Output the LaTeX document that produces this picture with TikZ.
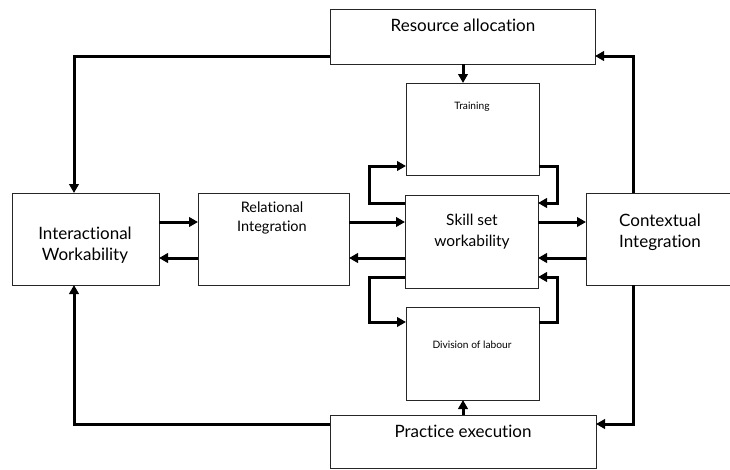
\documentclass[tikz,border=0pt]{standalone}
\usepackage{fontspec}
\setmainfont{Lato}[Ligatures={NoCommon,NoContextual}]
\usetikzlibrary{arrows.meta}
\begin{document}
\begin{tikzpicture}[x=1pt,y=-1pt,
  box/.style={draw=black!85,line width=0.8pt,fill=white,inner sep=0pt,outer sep=0pt},
  big/.style={font=\fontsize{17}{20}\selectfont,align=center,inner sep=0pt},
  mid/.style={font=\fontsize{17}{21}\selectfont,align=center,inner sep=0pt},
  sml/.style={font=\fontsize{10.2}{12}\selectfont,align=center,inner sep=0pt},
  arr/.style={line width=3pt,-{Triangle[length=9pt,width=9.5pt]},line join=miter}]
\useasboundingbox (0,0) rectangle (730,469);
% boxes
\node[box,minimum width=265pt,minimum height=55pt] (res) at (462.5,36.5) {};
\node[box,minimum width=133pt,minimum height=92pt] (train) at (472.5,129) {};
\node[box,minimum width=133pt,minimum height=93pt] (skill) at (471.5,241.5) {};
\node[box,minimum width=133pt,minimum height=93pt] (div) at (472.5,353.5) {};
\node[box,minimum width=266pt,minimum height=53pt] (prac) at (463,441.5) {};
\node[box,minimum width=147pt,minimum height=92pt] (inter) at (85.5,239) {};
\node[box,minimum width=151pt,minimum height=92pt] (rel) at (273.5,239) {};
\node[box,minimum width=149pt,minimum height=92pt] (ctx) at (660.5,239) {};
% texts
\node[big] (tres) at (463,25) {Resource allocation};
\node[sml] (ttrain) at (472,107) {Training};
\node[mid,font=\fontsize{15.5}{21}\selectfont] (tskill) at (472,232) {Skill set\\workability};
\node[sml] (tdiv) at (472,345) {Division of labour};
\node[big] (tprac) at (463,431) {Practice execution};
\node[mid] (tinter) at (85,245) {Interactional\\Workability};
\node[mid,font=\fontsize{14.5}{19.5}\selectfont] (trel) at (272,218) {Relational\\Integration};
\node[mid] (tctx) at (660,232) {Contextual\\Integration};
% connectors
\draw[arr] (res.south -| 463,0) -- (train.north -| 463,0);
\draw[arr] (res.west |- 0,56) -- (74,56) -- (inter.north -| 74,0);
\draw[arr] (ctx.north -| 633,0) -- (633,56) -- (res.east |- 0,56);
\draw[arr] (ctx.south -| 633,0) -- (633,424) -- (prac.east |- 0,424);
\draw[arr] (prac.west |- 0,424) -- (74,424) -- (inter.south -| 74,0);
\draw[arr] (prac.north -| 463,0) -- (div.south -| 463,0);
\draw[arr] (inter.east |- 0,222) -- (rel.west |- 0,222);
\draw[arr] (rel.west |- 0,258) -- (inter.east |- 0,258);
\draw[arr] (rel.east |- 0,222) -- (skill.west |- 0,222);
\draw[arr] (skill.west |- 0,258) -- (rel.east |- 0,258);
\draw[arr] (skill.east |- 0,222) -- (ctx.west |- 0,222);
\draw[arr] (ctx.west |- 0,258) -- (skill.east |- 0,258);
\draw[arr] (skill.west |- 0,203) -- (369,203) -- (369,166) -- (train.west |- 0,166);
\draw[arr] (train.east |- 0,166) -- (557,166) -- (557,203) -- (skill.east |- 0,203);
\draw[arr] (skill.west |- 0,277) -- (369,277) -- (369,322) -- (div.west |- 0,322);
\draw[arr] (div.east |- 0,322) -- (557,322) -- (557,277) -- (skill.east |- 0,277);
\end{tikzpicture}
\end{document}
